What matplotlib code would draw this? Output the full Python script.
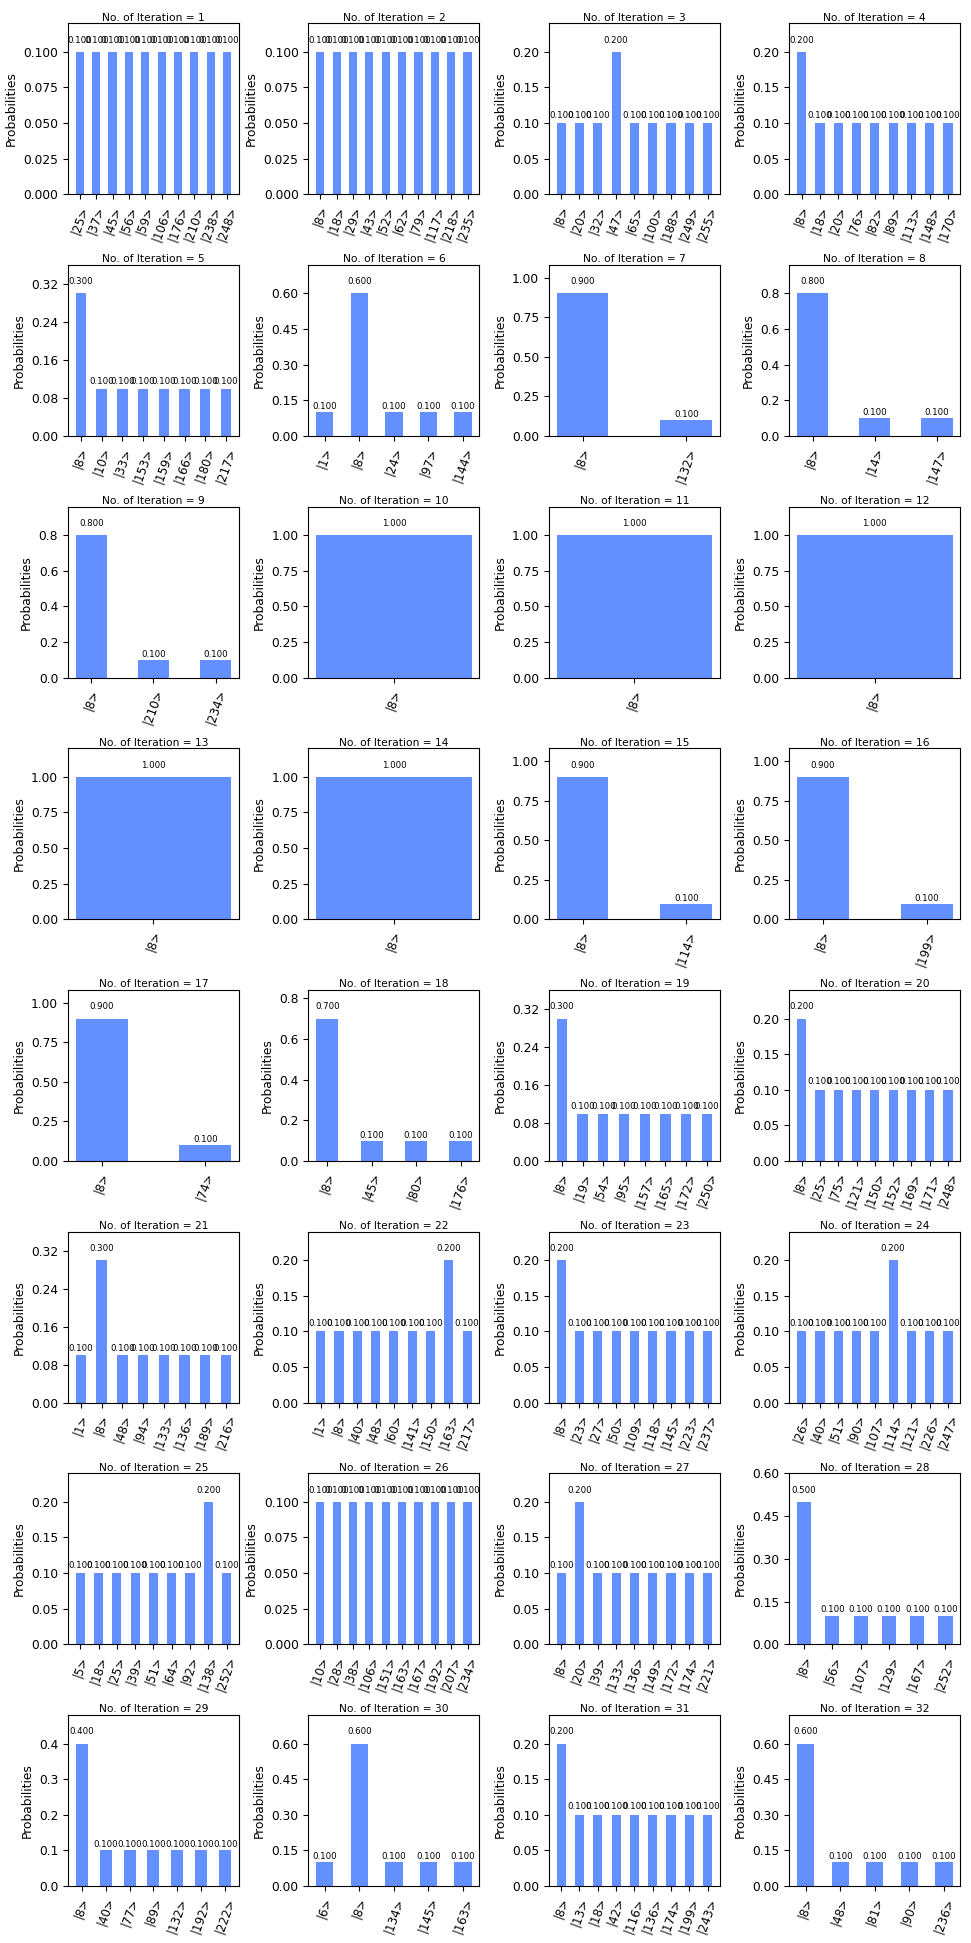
import matplotlib
matplotlib.use('Agg')
import matplotlib.pyplot as plt
from matplotlib.ticker import MaxNLocator

BAR_COLOR = '#648fff'

# measured states (basis index) and probabilities for each Grover iteration
states_1 = [25, 37, 45, 56, 59, 106, 176, 210, 238, 248]
probs_1 = [0.1, 0.1, 0.1, 0.1, 0.1, 0.1, 0.1, 0.1, 0.1, 0.1]
states_2 = [8, 18, 29, 43, 52, 62, 79, 117, 218, 235]
probs_2 = [0.1, 0.1, 0.1, 0.1, 0.1, 0.1, 0.1, 0.1, 0.1, 0.1]
states_3 = [8, 20, 32, 47, 65, 100, 188, 249, 255]
probs_3 = [0.1, 0.1, 0.1, 0.2, 0.1, 0.1, 0.1, 0.1, 0.1]
states_4 = [8, 18, 20, 76, 82, 89, 113, 148, 170]
probs_4 = [0.2, 0.1, 0.1, 0.1, 0.1, 0.1, 0.1, 0.1, 0.1]
states_5 = [8, 10, 33, 153, 159, 166, 180, 217]
probs_5 = [0.3, 0.1, 0.1, 0.1, 0.1, 0.1, 0.1, 0.1]
states_6 = [1, 8, 24, 97, 144]
probs_6 = [0.1, 0.6, 0.1, 0.1, 0.1]
states_7 = [8, 132]
probs_7 = [0.9, 0.1]
states_8 = [8, 14, 147]
probs_8 = [0.8, 0.1, 0.1]
states_9 = [8, 210, 234]
probs_9 = [0.8, 0.1, 0.1]
states_10 = [8]
probs_10 = [1.0]
states_11 = [8]
probs_11 = [1.0]
states_12 = [8]
probs_12 = [1.0]
states_13 = [8]
probs_13 = [1.0]
states_14 = [8]
probs_14 = [1.0]
states_15 = [8, 114]
probs_15 = [0.9, 0.1]
states_16 = [8, 199]
probs_16 = [0.9, 0.1]
states_17 = [8, 74]
probs_17 = [0.9, 0.1]
states_18 = [8, 45, 80, 176]
probs_18 = [0.7, 0.1, 0.1, 0.1]
states_19 = [8, 19, 54, 95, 157, 165, 172, 250]
probs_19 = [0.3, 0.1, 0.1, 0.1, 0.1, 0.1, 0.1, 0.1]
states_20 = [8, 25, 75, 121, 150, 152, 169, 171, 248]
probs_20 = [0.2, 0.1, 0.1, 0.1, 0.1, 0.1, 0.1, 0.1, 0.1]
states_21 = [1, 8, 48, 94, 133, 136, 189, 216]
probs_21 = [0.1, 0.3, 0.1, 0.1, 0.1, 0.1, 0.1, 0.1]
states_22 = [1, 8, 40, 48, 60, 141, 150, 163, 217]
probs_22 = [0.1, 0.1, 0.1, 0.1, 0.1, 0.1, 0.1, 0.2, 0.1]
states_23 = [8, 23, 27, 50, 109, 118, 145, 223, 237]
probs_23 = [0.2, 0.1, 0.1, 0.1, 0.1, 0.1, 0.1, 0.1, 0.1]
states_24 = [26, 40, 51, 90, 107, 114, 121, 226, 247]
probs_24 = [0.1, 0.1, 0.1, 0.1, 0.1, 0.2, 0.1, 0.1, 0.1]
states_25 = [5, 18, 25, 39, 51, 64, 92, 138, 252]
probs_25 = [0.1, 0.1, 0.1, 0.1, 0.1, 0.1, 0.1, 0.2, 0.1]
states_26 = [10, 28, 38, 106, 151, 163, 167, 192, 207, 234]
probs_26 = [0.1, 0.1, 0.1, 0.1, 0.1, 0.1, 0.1, 0.1, 0.1, 0.1]
states_27 = [8, 20, 39, 133, 136, 149, 172, 174, 221]
probs_27 = [0.1, 0.2, 0.1, 0.1, 0.1, 0.1, 0.1, 0.1, 0.1]
states_28 = [8, 56, 107, 129, 167, 252]
probs_28 = [0.5, 0.1, 0.1, 0.1, 0.1, 0.1]
states_29 = [8, 40, 77, 89, 132, 192, 222]
probs_29 = [0.4, 0.1, 0.1, 0.1, 0.1, 0.1, 0.1]
states_30 = [6, 8, 134, 145, 163]
probs_30 = [0.1, 0.6, 0.1, 0.1, 0.1]
states_31 = [8, 13, 18, 42, 116, 136, 174, 199, 243]
probs_31 = [0.2, 0.1, 0.1, 0.1, 0.1, 0.1, 0.1, 0.1, 0.1]
states_32 = [8, 48, 81, 90, 236]
probs_32 = [0.6, 0.1, 0.1, 0.1, 0.1]

STATES = [states_1, states_2, states_3, states_4, states_5, states_6, states_7, states_8,
          states_9, states_10, states_11, states_12, states_13, states_14, states_15, states_16,
          states_17, states_18, states_19, states_20, states_21, states_22, states_23, states_24,
          states_25, states_26, states_27, states_28, states_29, states_30, states_31, states_32]
PROBS = [probs_1, probs_2, probs_3, probs_4, probs_5, probs_6, probs_7, probs_8,
         probs_9, probs_10, probs_11, probs_12, probs_13, probs_14, probs_15, probs_16,
         probs_17, probs_18, probs_19, probs_20, probs_21, probs_22, probs_23, probs_24,
         probs_25, probs_26, probs_27, probs_28, probs_29, probs_30, probs_31, probs_32]


def plot_histogram(ax, states, probs, iteration):
    """Draw one histogram the way qiskit's plot_histogram does."""
    xs = list(range(len(states)))
    rects = ax.bar(xs, probs, width=0.5, color=BAR_COLOR)
    for rect in rects:
        height = rect.get_height()
        ax.text(rect.get_x() + rect.get_width() / 2., 1.05 * height, '%.3f' % float(height),
                ha='center', va='bottom', zorder=3, fontsize=6.2)
    ax.set_xticks(xs)
    ax.set_xticklabels(['|%d>' % s for s in states], fontsize=8.6, rotation=70)
    ax.set_ylim([0., min(1.2, max(1.2 * p for p in probs))])
    ax.yaxis.set_major_locator(MaxNLocator(5))
    ax.tick_params(axis='y', labelsize=8.8)
    ax.set_ylabel('Probabilities', fontsize=8.8)
    ax.set_title('No. of Iteration = %d' % iteration, fontsize=7.7, pad=2)


def main():
    fig, axs = plt.subplots(8, 4, figsize=(9.71, 19.43), dpi=100)
    fig.subplots_adjust(left=0.070, right=0.989, top=0.988, bottom=0.0293,
                        wspace=0.406, hspace=0.413)
    for i, ax in enumerate(axs.flat):
        plot_histogram(ax, STATES[i], PROBS[i], i + 1)
    fig.savefig('out.png', dpi=100)


if __name__ == "__main__":
    main()
